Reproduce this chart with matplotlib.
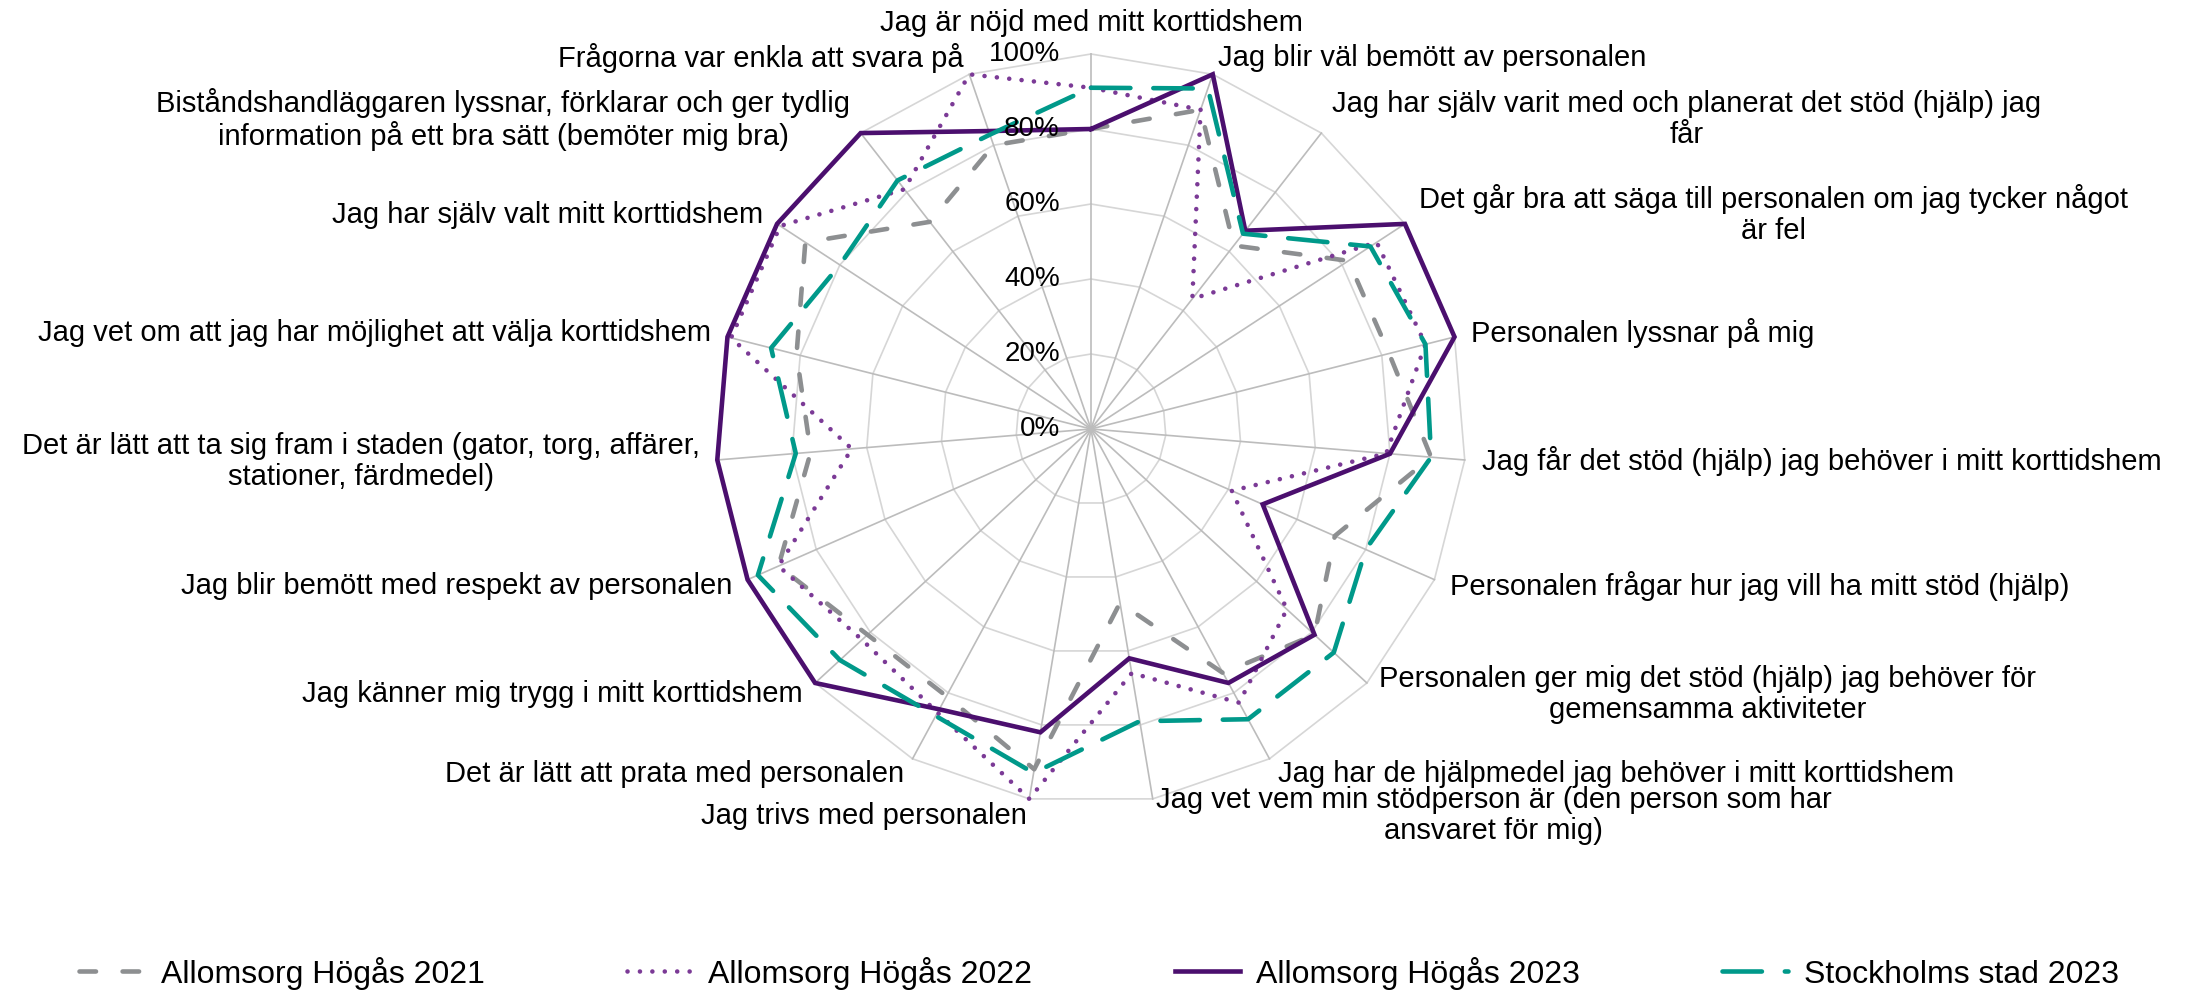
import numpy as np
import matplotlib
matplotlib.use("Agg")
import matplotlib.pyplot as plt
from matplotlib.transforms import offset_copy

plt.rcParams['font.family'] = ['Liberation Sans', 'DejaVu Sans']

# Frågor, medurs från toppen
kategorier = [
    "Jag är nöjd med mitt korttidshem",
    "Jag blir väl bemött av personalen",
    "Jag har själv varit med och planerat det stöd (hjälp) jag\nfår",
    "Det går bra att säga till personalen om jag tycker något\när fel",
    "Personalen lyssnar på mig",
    "Jag får det stöd (hjälp) jag behöver i mitt korttidshem",
    "Personalen frågar hur jag vill ha mitt stöd (hjälp)",
    "Personalen ger mig det stöd (hjälp) jag behöver för\ngemensamma aktiviteter",
    "Jag har de hjälpmedel jag behöver i mitt korttidshem",
    "Jag vet vem min stödperson är (den person som har\nansvaret för mig)",
    "Jag trivs med personalen",
    "Det är lätt att prata med personalen",
    "Jag känner mig trygg i mitt korttidshem",
    "Jag blir bemött med respekt av personalen",
    "Det är lätt att ta sig fram i staden (gator, torg, affärer,\nstationer, färdmedel)",
    "Jag vet om att jag har möjlighet att välja korttidshem",
    "Jag har själv valt mitt korttidshem",
    "Biståndshandläggaren lyssnar, förklarar och ger tydlig\ninformation på ett bra sätt (bemöter mig bra)",
    "Frågorna var enkla att svara på",
]

hogas_2021 = [0.80, 0.90, 0.62, 0.82, 0.82, 0.91, 0.71, 0.81, 0.74, 0.47,
              0.92, 0.81, 0.81, 0.91, 0.75, 0.81, 0.91, 0.70, 0.80]
hogas_2022 = [0.91, 0.90, 0.44, 0.91, 0.92, 0.79, 0.41, 0.71, 0.83, 0.66,
              1.00, 0.86, 0.83, 0.91, 0.64, 0.99, 0.99, 0.81, 1.00]
hogas_2023 = [0.80, 1.00, 0.67, 1.00, 1.00, 0.80, 0.50, 0.81, 0.77, 0.62,
              0.82, 0.85, 1.00, 1.00, 1.00, 1.00, 1.00, 1.00, 0.84]
stockholm_2023 = [0.91, 0.96, 0.66, 0.89, 0.92, 0.91, 0.80, 0.88, 0.88, 0.79,
                  0.93, 0.87, 0.91, 0.97, 0.79, 0.88, 0.80, 0.84, 0.83]

serienamn = ["Allomsorg Högås 2021", "Allomsorg Högås 2022",
             "Allomsorg Högås 2023", "Stockholms stad 2023"]
ringar = [0.0, 0.2, 0.4, 0.6, 0.8, 1.0]

n = len(kategorier)
vinklar = np.arange(n) * 2 * np.pi / n
stang = np.append(vinklar, vinklar[0])

fig = plt.figure(figsize=(21.98, 9.9), dpi=100)
ax = fig.add_axes([0.32575, 0.18788, 0.34122, 0.75758], projection='polar')
ax.set_theta_zero_location('N')
ax.set_theta_direction(-1)
ax.set_ylim(0, 1)
ax.set_xticks([])
ax.set_yticks([])
ax.grid(False)
ax.spines['polar'].set_visible(False)
ax.patch.set_visible(False)

# rutnät: månghörningar + ekrar
for r in ringar[1:]:
    ax.plot(stang, [r] * (n + 1), color='#D6D6D6', lw=1.2, clip_on=False, zorder=1)
for v in vinklar:
    ax.plot([v, v], [0, 1], color='#BCBCBC', lw=1.2, clip_on=False, zorder=1)

# procentetiketter
tick_trans = offset_copy(ax.transData, x=-31, y=0, units='dots')
for r in ringar:
    ax.text(0, r, f"{int(round(r * 100))}%", transform=tick_trans,
            ha='right', va='center', fontsize=20, color='black', zorder=5)

# serier
stilar = [
    dict(color='#8D8F91', linestyle=(0, (3.6, 5.8))),
    dict(color='#7B3A96', linestyle=(0, (0.01, 2.7))),
    dict(color='#4B0F6E', linestyle='-'),
    dict(color='#00998A', linestyle=(0, (8.6, 5.0))),
]
for data, namn, stil in zip([hogas_2021, hogas_2022, hogas_2023, stockholm_2023],
                            serienamn, stilar):
    ax.plot(stang, np.append(data, data[0]), lw=3.3, label=namn,
            dash_capstyle='round', solid_joinstyle='miter',
            clip_on=False, zorder=3, **stil)

# kategorietiketter
avst = 17
for v, txt in zip(vinklar, kategorier):
    s, c = np.sin(v), np.cos(v)
    tr = offset_copy(ax.transData, x=avst * s, y=avst * c, units='dots')
    if abs(s) < 0.05:
        ha, va = 'center', 'bottom'
    elif s > 0:
        ha, va = 'left', 'center'
    else:
        ha, va = 'right', 'center'
    ax.text(v, 1.0, txt, transform=tr, ha=ha, va=va, fontsize=21,
            multialignment='center', linespacing=1.15, color='black')

fig.legend(loc='center', bbox_to_anchor=(0.5, 0.017), ncol=4, frameon=False,
           fontsize=23, handlelength=2.05, handletextpad=0.5, columnspacing=4.45)

fig.savefig("out.png", dpi=100)
